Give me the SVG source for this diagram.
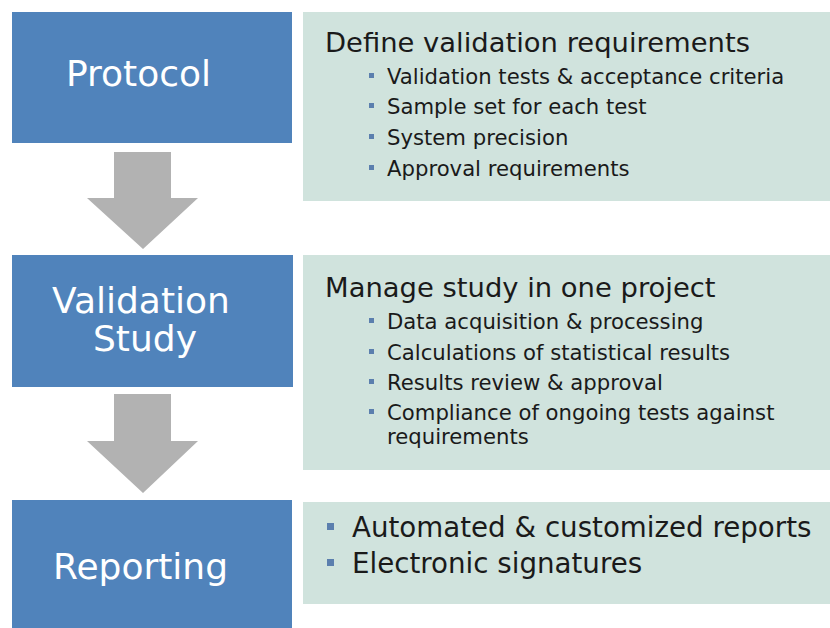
<svg xmlns="http://www.w3.org/2000/svg" width="830" height="628" viewBox="0 0 830 628">
<style>
.step{fill:#5083bb}
.panel{fill:#d0e3dd}
.arrow{fill:#b2b2b2}
.title{font-family:"DejaVu Sans",Verdana,sans-serif;font-size:36px;fill:#ffffff}
.head{font-family:"DejaVu Sans",Verdana,sans-serif;font-size:27.4px;fill:#1a1a1a}
.item{font-family:"DejaVu Sans",Verdana,sans-serif;font-size:21.2px;fill:#1a1a1a}
.big{font-family:"DejaVu Sans",Verdana,sans-serif;font-size:27.7px;fill:#1a1a1a}
.bul{fill:#5b7fae}
</style>
<rect width="830" height="628" fill="#ffffff"/>
<g id="connectors">
<polygon class="arrow" points="114,152 171,152 171,198 198,198 143,249 87,198 114,198"/>
<polygon class="arrow" points="114,394 171,394 171,441 198,441 143,493 87,441 114,441"/>
</g>
<g id="protocol">
<rect class="step" x="12" y="12" width="280" height="131"/>
<text class="title" x="66" y="86">Protocol</text>
</g>
<g id="protocol-details">
<rect class="panel" x="303" y="12" width="527" height="189"/>
<text class="head" x="325" y="52">Define validation requirements</text>
<rect class="bul" x="369" y="73" width="5" height="5"/>
<text class="item" x="387" y="84">Validation tests &amp; acceptance criteria</text>
<rect class="bul" x="369" y="103" width="5" height="5"/>
<text class="item" x="387" y="114">Sample set for each test</text>
<rect class="bul" x="369" y="134" width="5" height="5"/>
<text class="item" x="387" y="145">System precision</text>
<rect class="bul" x="369" y="165" width="5" height="5"/>
<text class="item" x="387" y="176">Approval requirements</text>
</g>
<g id="validation-study">
<rect class="step" x="12" y="255" width="281" height="132"/>
<text class="title" x="141" y="313" text-anchor="middle">Validation</text>
<text class="title" x="145" y="351" text-anchor="middle">Study</text>
</g>
<g id="study-details">
<rect class="panel" x="303" y="255" width="527" height="215"/>
<text class="head" x="325" y="297">Manage study in one project</text>
<rect class="bul" x="369" y="318" width="5" height="5"/>
<text class="item" x="387" y="329">Data acquisition &amp; processing</text>
<rect class="bul" x="369" y="349" width="5" height="5"/>
<text class="item" x="387" y="360">Calculations of statistical results</text>
<rect class="bul" x="369" y="379" width="5" height="5"/>
<text class="item" x="387" y="390">Results review &amp; approval</text>
<rect class="bul" x="369" y="409" width="5" height="5"/>
<text class="item" x="387" y="420">Compliance of ongoing tests against</text>
<text class="item" x="387" y="444">requirements</text>
</g>
<g id="reporting">
<rect class="step" x="12" y="500" width="280" height="128"/>
<text class="title" x="53" y="579">Reporting</text>
</g>
<g id="reporting-details">
<rect class="panel" x="303" y="502" width="527" height="102"/>
<rect class="bul" x="327" y="523" width="7" height="7"/>
<text class="big" x="352" y="537">Automated &amp; customized reports</text>
<rect class="bul" x="327" y="559" width="7" height="7"/>
<text class="big" x="352" y="573">Electronic signatures</text>
</g>
</svg>
